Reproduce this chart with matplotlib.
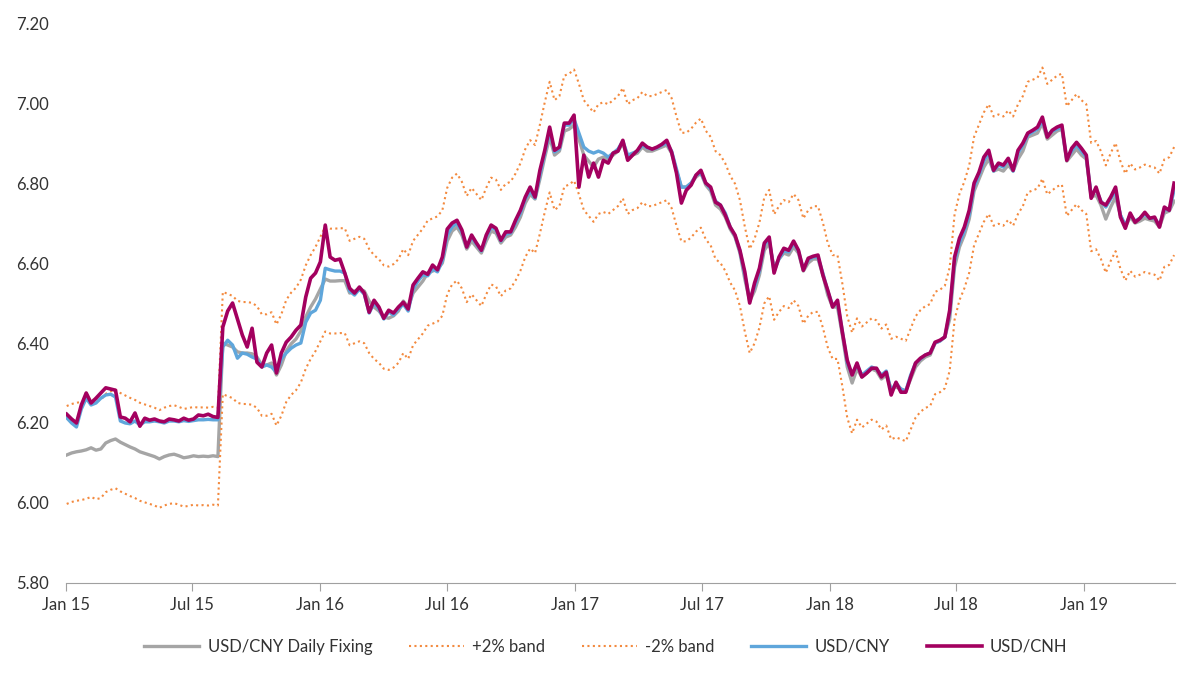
import matplotlib
matplotlib.use('Agg')
import matplotlib.pyplot as plt
import matplotlib.dates as mdates
import numpy as np
import pandas as pd

plt.rcParams['font.family'] = ['Lato', 'DejaVu Sans']

# weekly observations (Fridays), Jan 2015 - May 2019
dates = pd.date_range('2015-01-02', periods=228, freq='7D')

fixing = np.array([
    6.120, 6.125, 6.128, 6.130, 6.133, 6.138, 6.132, 6.135, 6.150, 6.156,
    6.160, 6.152, 6.146, 6.140, 6.135, 6.128, 6.124, 6.120, 6.116, 6.110,
    6.116, 6.120, 6.122, 6.118, 6.113, 6.115, 6.118, 6.116, 6.117, 6.116,
    6.118, 6.116,
    6.400, 6.395, 6.390, 6.378, 6.375, 6.375, 6.373, 6.365, 6.345, 6.345,
    6.350, 6.320, 6.345, 6.380, 6.398, 6.410, 6.430, 6.465, 6.490, 6.510,
    6.535, 6.560, 6.555, 6.555, 6.556, 6.556, 6.525, 6.530, 6.535, 6.530,
    6.505, 6.490, 6.480, 6.465, 6.462, 6.468, 6.480, 6.505, 6.490, 6.525,
    6.540, 6.555, 6.575, 6.580, 6.585, 6.600, 6.655, 6.680, 6.690, 6.670,
    6.635, 6.655, 6.640, 6.625, 6.655, 6.680, 6.675, 6.650, 6.665, 6.670,
    6.690, 6.715, 6.750, 6.772, 6.760, 6.810, 6.865, 6.915, 6.870, 6.880,
    6.930, 6.935, 6.945, 6.910, 6.870, 6.855, 6.840, 6.860, 6.865, 6.860,
    6.870, 6.880, 6.900, 6.860, 6.870, 6.875, 6.890, 6.880, 6.880, 6.885,
    6.890, 6.895, 6.875, 6.830, 6.790, 6.790, 6.800, 6.815, 6.825, 6.795,
    6.780, 6.745, 6.735, 6.715, 6.685, 6.665, 6.625, 6.560, 6.505, 6.530,
    6.570, 6.632, 6.650, 6.590, 6.610, 6.625, 6.620, 6.640, 6.625, 6.580,
    6.600, 6.610, 6.610, 6.570, 6.520, 6.490, 6.490, 6.420, 6.340, 6.300,
    6.335, 6.315, 6.325, 6.335, 6.330, 6.310, 6.320, 6.285, 6.290, 6.285,
    6.280, 6.310, 6.340, 6.355, 6.365, 6.370, 6.400, 6.405, 6.415, 6.460,
    6.590, 6.640, 6.670, 6.710, 6.780, 6.810, 6.840, 6.860, 6.830, 6.835,
    6.830, 6.845, 6.830, 6.860, 6.880, 6.915, 6.920, 6.925, 6.950, 6.910,
    6.920, 6.930, 6.935, 6.855, 6.870, 6.885, 6.870, 6.860, 6.765, 6.770,
    6.745, 6.710, 6.740, 6.765, 6.720, 6.690, 6.715, 6.700, 6.705, 6.712,
    6.708, 6.705, 6.690, 6.725, 6.730, 6.755,
])

usdcny = np.array([
    6.213, 6.200, 6.190, 6.235, 6.262, 6.245, 6.250, 6.262, 6.270, 6.272,
    6.265, 6.205, 6.200, 6.198, 6.205, 6.195, 6.203, 6.203, 6.205, 6.203,
    6.200, 6.205, 6.205, 6.203, 6.206, 6.204, 6.206, 6.208, 6.208, 6.209,
    6.208, 6.208,
    6.390, 6.407, 6.395, 6.362, 6.375, 6.372, 6.365, 6.360, 6.340, 6.345,
    6.340, 6.327, 6.360, 6.375, 6.387, 6.395, 6.400, 6.452, 6.475, 6.482,
    6.507, 6.587, 6.583, 6.580, 6.580, 6.575, 6.530, 6.520, 6.535, 6.522,
    6.475, 6.500, 6.485, 6.460, 6.478, 6.470, 6.485, 6.497, 6.480, 6.535,
    6.555, 6.570, 6.568, 6.585, 6.578, 6.605, 6.670, 6.690, 6.700, 6.678,
    6.640, 6.665, 6.647, 6.630, 6.665, 6.690, 6.683, 6.655, 6.672, 6.675,
    6.700, 6.725, 6.760, 6.780, 6.762, 6.820, 6.875, 6.930, 6.878, 6.885,
    6.945, 6.945, 6.960, 6.925, 6.890, 6.880, 6.875, 6.880, 6.875, 6.865,
    6.875, 6.885, 6.905, 6.870, 6.875, 6.880, 6.895, 6.888, 6.885, 6.888,
    6.895, 6.900, 6.880, 6.835, 6.790, 6.790, 6.800, 6.820, 6.825, 6.800,
    6.785, 6.755, 6.745, 6.725, 6.690, 6.668, 6.630, 6.570, 6.510, 6.540,
    6.580, 6.645, 6.660, 6.580, 6.610, 6.630, 6.628, 6.650, 6.630, 6.585,
    6.608, 6.615, 6.615, 6.575, 6.530, 6.495, 6.500, 6.430, 6.350, 6.322,
    6.345, 6.320, 6.330, 6.340, 6.335, 6.320, 6.330, 6.280, 6.300, 6.285,
    6.280, 6.320, 6.350, 6.360, 6.370, 6.375, 6.400, 6.405, 6.415, 6.475,
    6.605, 6.650, 6.680, 6.720, 6.790, 6.820, 6.855, 6.875, 6.830, 6.845,
    6.840, 6.858, 6.830, 6.875, 6.895, 6.920, 6.928, 6.935, 6.955, 6.920,
    6.930, 6.935, 6.940, 6.860, 6.880, 6.895, 6.880, 6.865, 6.770, 6.785,
    6.755, 6.740, 6.760, 6.780, 6.720, 6.695, 6.720, 6.705, 6.712, 6.722,
    6.712, 6.712, 6.695, 6.735, 6.732, 6.782,
])

usdcnh = np.array([
    6.222, 6.210, 6.200, 6.245, 6.275, 6.250, 6.262, 6.275, 6.288, 6.285,
    6.282, 6.215, 6.212, 6.203, 6.225, 6.192, 6.212, 6.207, 6.210, 6.205,
    6.203, 6.210, 6.208, 6.205, 6.212, 6.207, 6.210, 6.220, 6.218, 6.222,
    6.216, 6.214,
    6.440, 6.480, 6.500, 6.460, 6.420, 6.390, 6.437, 6.352, 6.340, 6.375,
    6.395, 6.325, 6.375, 6.402, 6.415, 6.432, 6.445, 6.515, 6.562, 6.575,
    6.603, 6.695, 6.615, 6.607, 6.610, 6.575, 6.537, 6.525, 6.540, 6.525,
    6.477, 6.507, 6.490, 6.462, 6.482, 6.475, 6.490, 6.502, 6.485, 6.545,
    6.562, 6.578, 6.572, 6.595, 6.583, 6.615, 6.685, 6.700, 6.707, 6.683,
    6.640, 6.670, 6.650, 6.632, 6.670, 6.695, 6.687, 6.657, 6.678, 6.678,
    6.707, 6.732, 6.765, 6.790, 6.765, 6.832, 6.882, 6.940, 6.882, 6.890,
    6.950, 6.950, 6.970, 6.790, 6.870, 6.815, 6.850, 6.815, 6.857, 6.850,
    6.875, 6.880, 6.907, 6.857, 6.870, 6.882, 6.900, 6.890, 6.885, 6.890,
    6.897, 6.907, 6.877, 6.825, 6.750, 6.782, 6.795, 6.820, 6.832, 6.800,
    6.790, 6.752, 6.745, 6.720, 6.690, 6.670, 6.632, 6.578, 6.500, 6.550,
    6.587, 6.650, 6.665, 6.575, 6.615, 6.637, 6.632, 6.655, 6.632, 6.582,
    6.612, 6.617, 6.620, 6.570, 6.532, 6.490, 6.507, 6.427, 6.357, 6.320,
    6.350, 6.315, 6.325, 6.337, 6.337, 6.315, 6.327, 6.270, 6.302, 6.277,
    6.277, 6.315, 6.350, 6.362, 6.370, 6.375, 6.402, 6.407, 6.415, 6.482,
    6.615, 6.662, 6.690, 6.732, 6.800, 6.827, 6.865, 6.882, 6.832, 6.850,
    6.845, 6.862, 6.832, 6.882, 6.900, 6.925, 6.932, 6.940, 6.965, 6.915,
    6.932, 6.940, 6.945, 6.857, 6.887, 6.902, 6.887, 6.870, 6.762, 6.790,
    6.752, 6.745, 6.765, 6.790, 6.715, 6.687, 6.725, 6.702, 6.712, 6.727,
    6.712, 6.715, 6.690, 6.740, 6.732, 6.800,
])

# bands are +/-2% around the daily fixing
band_up = fixing * 1.02
band_dn = fixing * 0.98

fig = plt.figure(figsize=(12, 6.81), dpi=100)
ax = fig.add_axes([0.055, 0.144, 0.924, 0.822])

orange = '#f38a3f'
dots = (0, (1, 1.6))
ax.plot(dates, fixing, color='#a5a5a5', lw=2.4, label='USD/CNY Daily Fixing')
ax.plot(dates, band_up, color=orange, lw=1.5, ls=dots, label='+2% band')
ax.plot(dates, band_dn, color=orange, lw=1.5, ls=dots, label='-2% band')
ax.plot(dates, usdcny, color='#5fa6db', lw=2.4, label='USD/CNY')
ax.plot(dates, usdcnh, color='#a3005f', lw=2.6, label='USD/CNH')

ax.set_ylim(5.8, 7.2)
ax.set_yticks(np.arange(5.8, 7.21, 0.2))
ax.yaxis.set_major_formatter(matplotlib.ticker.FormatStrFormatter('%.2f'))
ax.set_xlim(pd.Timestamp('2015-01-01'), pd.Timestamp('2019-05-11'))
ax.xaxis.set_major_locator(mdates.MonthLocator(bymonth=[1, 7]))
ax.xaxis.set_major_formatter(mdates.DateFormatter('%b %y'))

for s in ['top', 'right', 'left']:
    ax.spines[s].set_visible(False)
ax.spines['bottom'].set_color('#a0a0a0')
ax.tick_params(axis='y', length=0, pad=12, labelsize=12, labelcolor='#333333')
ax.tick_params(axis='x', length=6, color='#a0a0a0', pad=4, labelsize=12,
               labelcolor='#333333')

fig.legend(loc='center', bbox_to_anchor=(0.505, 1 - 647 / 681), ncol=5,
           frameon=False, fontsize=12, handlelength=3.3, handletextpad=0.5,
           columnspacing=2.2, labelcolor='#333333')

fig.savefig('out.png', dpi=100)
